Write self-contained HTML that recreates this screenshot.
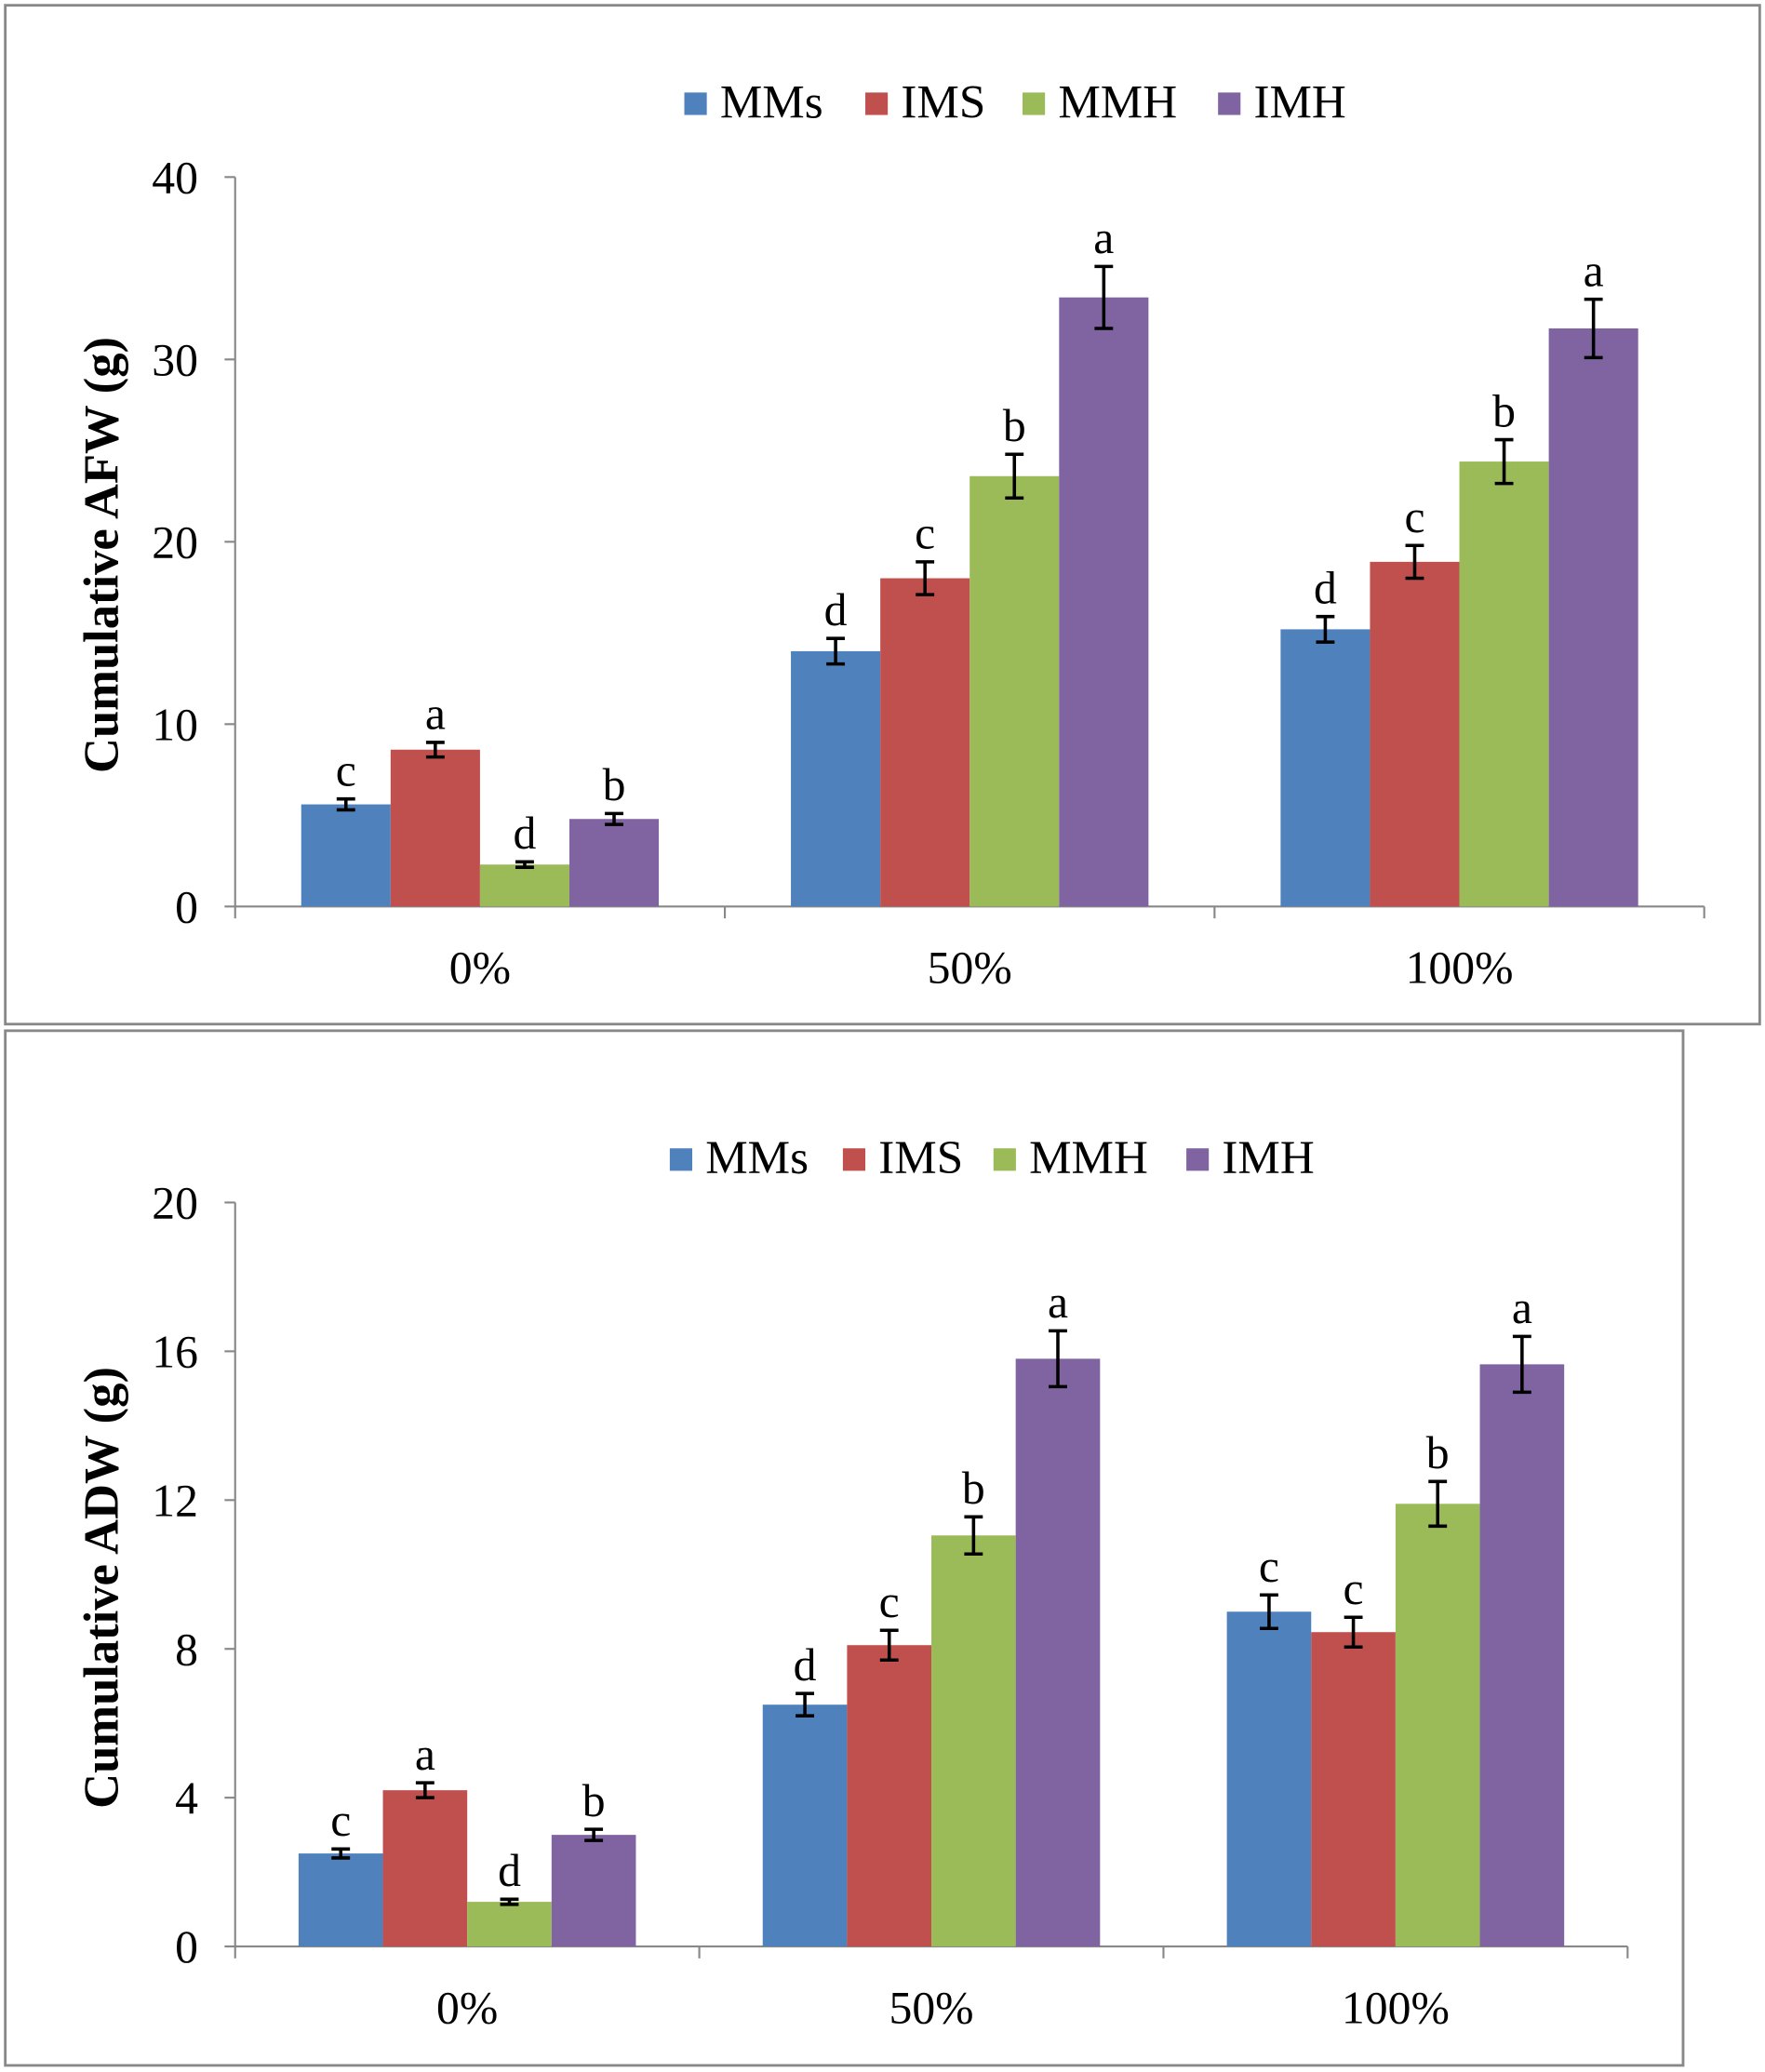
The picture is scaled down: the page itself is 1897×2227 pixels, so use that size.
<!DOCTYPE html>
<html><head><meta charset="utf-8"><style>
html,body{margin:0;padding:0;background:#fff;}
svg{display:block;font-family:"Liberation Serif",serif;}
</style></head><body>
<svg id="svg" width="1897" height="2227" viewBox="0 0 1336 1568" preserveAspectRatio="none">
<rect x="4" y="4" width="1328" height="771" fill="none" stroke="#888" stroke-width="2"/>
<rect x="4" y="780" width="1270" height="783" fill="none" stroke="#888" stroke-width="2"/>
<g id="c1"></g>
<g id="c2"></g>
</svg>
<script>
const categories = ["0%", "50%", "100%"];
const seriesNames = ["MMs", "IMS", "MMH", "IMH"];
const colors = ["#4F81BD", "#C0504D", "#9BBB59", "#8064A2"];
const afwMMs = [5.6, 14.0, 15.2];
const afwIMS = [8.6, 18.0, 18.9];
const afwMMH = [2.3, 23.6, 24.4];
const afwIMH = [4.8, 33.4, 31.7];
const afwErrMMs = [0.3, 0.7, 0.7];
const afwErrIMS = [0.4, 0.9, 0.9];
const afwErrMMH = [0.15, 1.2, 1.2];
const afwErrIMH = [0.3, 1.7, 1.6];
const afwLetters = [["c","d","d"],["a","c","c"],["d","b","b"],["b","a","a"]];
const afwTicks = [0, 10, 20, 30, 40];
const adwMMs = [2.5, 6.5, 9.0];
const adwIMS = [4.2, 8.1, 8.45];
const adwMMH = [1.2, 11.05, 11.9];
const adwIMH = [3.0, 15.8, 15.65];
const adwErrMMs = [0.12, 0.3, 0.45];
const adwErrIMS = [0.2, 0.4, 0.4];
const adwErrMMH = [0.07, 0.5, 0.6];
const adwErrIMH = [0.15, 0.75, 0.75];
const adwLetters = [["c","d","c"],["a","c","c"],["d","b","b"],["b","a","a"]];
const adwTicks = [0, 4, 8, 12, 16, 20];

const NS = "http://www.w3.org/2000/svg";
function mk(parent, tag, attrs, text) {
  const e = document.createElementNS(NS, tag);
  for (const k in attrs) e.setAttribute(k, attrs[k]);
  if (text !== undefined) e.textContent = text;
  parent.appendChild(e);
  return e;
}
function draw(g, cfg) {
  const {x0, x1, y0, yTop, yMax, ticks, series, errs, letters, title, legX, legY, barInset} = cfg;
  const yS = v => y0 - (v / yMax) * (y0 - yTop);
  const gw = (x1 - x0) / categories.length;
  const bw = (gw - 2 * barInset) / 4;
  let e = mk(g, "line", {x1: x0, y1: yTop, x2: x0, y2: y0, stroke: "#888", "stroke-width": 1.5});
  
  
  e = mk(g, "line", {x1: x0, y1: y0, x2: x1, y2: y0, stroke: "#888", "stroke-width": 1.5});
  
  
  ticks.forEach(t => {
    const y = yS(t);
    mk(g, "line", {x1: x0 - 8, y1: y, x2: x0, y2: y, stroke: "#888", "stroke-width": 1.5});
    const l = mk(g, "text", {x: x0 - 28, y: y + 12, "font-size": 35, "text-anchor": "end"}, t);
    
    
  });
  for (let i = 0; i <= categories.length; i++) {
    const x = x0 + i * gw;
    mk(g, "line", {x1: x, y1: y0, x2: x, y2: y0 + 9, stroke: "#888", "stroke-width": 1.5});
  }
  categories.forEach((c, i) => {
    const l = mk(g, "text", {x: x0 + (i + 0.5) * gw, y: y0 + 58, "font-size": 35, "text-anchor": "middle"}, c);
    
    
  });
  series.forEach((vals, s) => {
    vals.forEach((v, i) => {
      const bx = x0 + i * gw + barInset + s * bw;
      const r = mk(g, "rect", {x: bx, y: yS(v), width: bw, height: y0 - yS(v), fill: colors[s]});
      
      
      const cx = bx + bw / 2, er = errs[s][i];
      const eg = mk(g, "g", {stroke: "#000", "stroke-width": 2.5});
      
      
      mk(eg, "line", {x1: cx, y1: yS(v + er), x2: cx, y2: yS(v - er)});
      mk(eg, "line", {x1: cx - 7, y1: yS(v + er), x2: cx + 7, y2: yS(v + er)});
      mk(eg, "line", {x1: cx - 7, y1: yS(v - er), x2: cx + 7, y2: yS(v - er)});
      const lt = mk(g, "text", {x: cx, y: yS(v + er) - 10, "font-size": 35, "text-anchor": "middle"}, letters[s][i]);
      
      
    });
  });
  const tt = mk(g, "text", {x: 0, y: 0, "font-size": 37, "font-weight": "bold", "text-anchor": "middle", transform: `translate(89,${(y0 + yTop) / 2 + 10}) rotate(-90)`}, title);
  
  
  const lg = mk(g, "g", {});
  
  
  seriesNames.forEach((n, s) => {
    const le = mk(lg, "g", {});
    
    
    mk(le, "rect", {x: legX[s], y: legY - 17, width: 17, height: 17, fill: colors[s]});
    mk(le, "text", {x: legX[s] + 27, y: legY + 2, "font-size": 36}, n);
  });
}
draw(document.getElementById("c1"), {
  x0: 178, x1: 1290, y0: 686, yTop: 134, yMax: 40, ticks: afwTicks,
  series: [afwMMs, afwIMS, afwMMH, afwIMH], errs: [afwErrMMs, afwErrIMS, afwErrMMH, afwErrIMH],
  letters: afwLetters, title: "Cumulative AFW (g)", legX: [518, 655, 774, 922], legY: 87, barInset: 50
});
draw(document.getElementById("c2"), {
  x0: 178, x1: 1232, y0: 1473, yTop: 910, yMax: 20, ticks: adwTicks,
  series: [adwMMs, adwIMS, adwMMH, adwIMH], errs: [adwErrMMs, adwErrIMS, adwErrMMH, adwErrIMH],
  letters: adwLetters, title: "Cumulative ADW (g)", legX: [507, 638, 752, 898], legY: 886, barInset: 48
});
</script>
</body></html>
